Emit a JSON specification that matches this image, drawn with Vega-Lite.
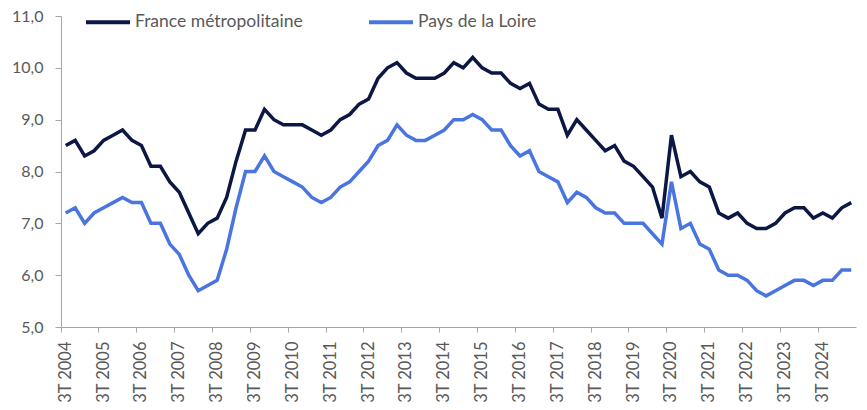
{
  "$schema": "https://vega.github.io/schema/vega-lite/v6.json",
  "width": 795,
  "height": 311,
  "autosize": {"type": "none"},
  "padding": {"left": 61, "top": 16, "right": 11, "bottom": 83},
  "background": "white",
  "config": {"view": {"stroke": null}, "font": "Lato"},
  "data": {"values": [
    {"trimestre": "3T 2004", "France métropolitaine": 8.5, "Pays de la Loire": 7.2},
    {"trimestre": "4T 2004", "France métropolitaine": 8.6, "Pays de la Loire": 7.3},
    {"trimestre": "1T 2005", "France métropolitaine": 8.3, "Pays de la Loire": 7.0},
    {"trimestre": "2T 2005", "France métropolitaine": 8.4, "Pays de la Loire": 7.2},
    {"trimestre": "3T 2005", "France métropolitaine": 8.6, "Pays de la Loire": 7.3},
    {"trimestre": "4T 2005", "France métropolitaine": 8.7, "Pays de la Loire": 7.4},
    {"trimestre": "1T 2006", "France métropolitaine": 8.8, "Pays de la Loire": 7.5},
    {"trimestre": "2T 2006", "France métropolitaine": 8.6, "Pays de la Loire": 7.4},
    {"trimestre": "3T 2006", "France métropolitaine": 8.5, "Pays de la Loire": 7.4},
    {"trimestre": "4T 2006", "France métropolitaine": 8.1, "Pays de la Loire": 7.0},
    {"trimestre": "1T 2007", "France métropolitaine": 8.1, "Pays de la Loire": 7.0},
    {"trimestre": "2T 2007", "France métropolitaine": 7.8, "Pays de la Loire": 6.6},
    {"trimestre": "3T 2007", "France métropolitaine": 7.6, "Pays de la Loire": 6.4},
    {"trimestre": "4T 2007", "France métropolitaine": 7.2, "Pays de la Loire": 6.0},
    {"trimestre": "1T 2008", "France métropolitaine": 6.8, "Pays de la Loire": 5.7},
    {"trimestre": "2T 2008", "France métropolitaine": 7.0, "Pays de la Loire": 5.8},
    {"trimestre": "3T 2008", "France métropolitaine": 7.1, "Pays de la Loire": 5.9},
    {"trimestre": "4T 2008", "France métropolitaine": 7.5, "Pays de la Loire": 6.5},
    {"trimestre": "1T 2009", "France métropolitaine": 8.2, "Pays de la Loire": 7.3},
    {"trimestre": "2T 2009", "France métropolitaine": 8.8, "Pays de la Loire": 8.0},
    {"trimestre": "3T 2009", "France métropolitaine": 8.8, "Pays de la Loire": 8.0},
    {"trimestre": "4T 2009", "France métropolitaine": 9.2, "Pays de la Loire": 8.3},
    {"trimestre": "1T 2010", "France métropolitaine": 9.0, "Pays de la Loire": 8.0},
    {"trimestre": "2T 2010", "France métropolitaine": 8.9, "Pays de la Loire": 7.9},
    {"trimestre": "3T 2010", "France métropolitaine": 8.9, "Pays de la Loire": 7.8},
    {"trimestre": "4T 2010", "France métropolitaine": 8.9, "Pays de la Loire": 7.7},
    {"trimestre": "1T 2011", "France métropolitaine": 8.8, "Pays de la Loire": 7.5},
    {"trimestre": "2T 2011", "France métropolitaine": 8.7, "Pays de la Loire": 7.4},
    {"trimestre": "3T 2011", "France métropolitaine": 8.8, "Pays de la Loire": 7.5},
    {"trimestre": "4T 2011", "France métropolitaine": 9.0, "Pays de la Loire": 7.7},
    {"trimestre": "1T 2012", "France métropolitaine": 9.1, "Pays de la Loire": 7.8},
    {"trimestre": "2T 2012", "France métropolitaine": 9.3, "Pays de la Loire": 8.0},
    {"trimestre": "3T 2012", "France métropolitaine": 9.4, "Pays de la Loire": 8.2},
    {"trimestre": "4T 2012", "France métropolitaine": 9.8, "Pays de la Loire": 8.5},
    {"trimestre": "1T 2013", "France métropolitaine": 10.0, "Pays de la Loire": 8.6},
    {"trimestre": "2T 2013", "France métropolitaine": 10.1, "Pays de la Loire": 8.9},
    {"trimestre": "3T 2013", "France métropolitaine": 9.9, "Pays de la Loire": 8.7},
    {"trimestre": "4T 2013", "France métropolitaine": 9.8, "Pays de la Loire": 8.6},
    {"trimestre": "1T 2014", "France métropolitaine": 9.8, "Pays de la Loire": 8.6},
    {"trimestre": "2T 2014", "France métropolitaine": 9.8, "Pays de la Loire": 8.7},
    {"trimestre": "3T 2014", "France métropolitaine": 9.9, "Pays de la Loire": 8.8},
    {"trimestre": "4T 2014", "France métropolitaine": 10.1, "Pays de la Loire": 9.0},
    {"trimestre": "1T 2015", "France métropolitaine": 10.0, "Pays de la Loire": 9.0},
    {"trimestre": "2T 2015", "France métropolitaine": 10.2, "Pays de la Loire": 9.1},
    {"trimestre": "3T 2015", "France métropolitaine": 10.0, "Pays de la Loire": 9.0},
    {"trimestre": "4T 2015", "France métropolitaine": 9.9, "Pays de la Loire": 8.8},
    {"trimestre": "1T 2016", "France métropolitaine": 9.9, "Pays de la Loire": 8.8},
    {"trimestre": "2T 2016", "France métropolitaine": 9.7, "Pays de la Loire": 8.5},
    {"trimestre": "3T 2016", "France métropolitaine": 9.6, "Pays de la Loire": 8.3},
    {"trimestre": "4T 2016", "France métropolitaine": 9.7, "Pays de la Loire": 8.4},
    {"trimestre": "1T 2017", "France métropolitaine": 9.3, "Pays de la Loire": 8.0},
    {"trimestre": "2T 2017", "France métropolitaine": 9.2, "Pays de la Loire": 7.9},
    {"trimestre": "3T 2017", "France métropolitaine": 9.2, "Pays de la Loire": 7.8},
    {"trimestre": "4T 2017", "France métropolitaine": 8.7, "Pays de la Loire": 7.4},
    {"trimestre": "1T 2018", "France métropolitaine": 9.0, "Pays de la Loire": 7.6},
    {"trimestre": "2T 2018", "France métropolitaine": 8.8, "Pays de la Loire": 7.5},
    {"trimestre": "3T 2018", "France métropolitaine": 8.6, "Pays de la Loire": 7.3},
    {"trimestre": "4T 2018", "France métropolitaine": 8.4, "Pays de la Loire": 7.2},
    {"trimestre": "1T 2019", "France métropolitaine": 8.5, "Pays de la Loire": 7.2},
    {"trimestre": "2T 2019", "France métropolitaine": 8.2, "Pays de la Loire": 7.0},
    {"trimestre": "3T 2019", "France métropolitaine": 8.1, "Pays de la Loire": 7.0},
    {"trimestre": "4T 2019", "France métropolitaine": 7.9, "Pays de la Loire": 7.0},
    {"trimestre": "1T 2020", "France métropolitaine": 7.7, "Pays de la Loire": 6.8},
    {"trimestre": "2T 2020", "France métropolitaine": 7.1, "Pays de la Loire": 6.6},
    {"trimestre": "3T 2020", "France métropolitaine": 8.7, "Pays de la Loire": 7.8},
    {"trimestre": "4T 2020", "France métropolitaine": 7.9, "Pays de la Loire": 6.9},
    {"trimestre": "1T 2021", "France métropolitaine": 8.0, "Pays de la Loire": 7.0},
    {"trimestre": "2T 2021", "France métropolitaine": 7.8, "Pays de la Loire": 6.6},
    {"trimestre": "3T 2021", "France métropolitaine": 7.7, "Pays de la Loire": 6.5},
    {"trimestre": "4T 2021", "France métropolitaine": 7.2, "Pays de la Loire": 6.1},
    {"trimestre": "1T 2022", "France métropolitaine": 7.1, "Pays de la Loire": 6.0},
    {"trimestre": "2T 2022", "France métropolitaine": 7.2, "Pays de la Loire": 6.0},
    {"trimestre": "3T 2022", "France métropolitaine": 7.0, "Pays de la Loire": 5.9},
    {"trimestre": "4T 2022", "France métropolitaine": 6.9, "Pays de la Loire": 5.7},
    {"trimestre": "1T 2023", "France métropolitaine": 6.9, "Pays de la Loire": 5.6},
    {"trimestre": "2T 2023", "France métropolitaine": 7.0, "Pays de la Loire": 5.7},
    {"trimestre": "3T 2023", "France métropolitaine": 7.2, "Pays de la Loire": 5.8},
    {"trimestre": "4T 2023", "France métropolitaine": 7.3, "Pays de la Loire": 5.9},
    {"trimestre": "1T 2024", "France métropolitaine": 7.3, "Pays de la Loire": 5.9},
    {"trimestre": "2T 2024", "France métropolitaine": 7.1, "Pays de la Loire": 5.8},
    {"trimestre": "3T 2024", "France métropolitaine": 7.2, "Pays de la Loire": 5.9},
    {"trimestre": "4T 2024", "France métropolitaine": 7.1, "Pays de la Loire": 5.9},
    {"trimestre": "1T 2025", "France métropolitaine": 7.3, "Pays de la Loire": 6.1},
    {"trimestre": "2T 2025", "France métropolitaine": 7.4, "Pays de la Loire": 6.1}
  ]},
  "transform": [
    {"fold": ["France métropolitaine", "Pays de la Loire"], "as": ["serie", "taux"]}
  ],
  "mark": {"type": "line", "strokeWidth": 3.5, "strokeJoin": "miter"},
  "encoding": {
    "x": {
      "field": "trimestre",
      "type": "nominal",
      "sort": null,
      "scale": {"type": "band", "paddingInner": 0, "paddingOuter": 0},
      "axis": {
        "title": null,
        "values": ["3T 2004", "3T 2005", "3T 2006", "3T 2007", "3T 2008", "3T 2009", "3T 2010", "3T 2011", "3T 2012", "3T 2013", "3T 2014", "3T 2015", "3T 2016", "3T 2017", "3T 2018", "3T 2019", "3T 2020", "3T 2021", "3T 2022", "3T 2023", "3T 2024"],
        "bandPosition": 0,
        "labelAngle": -90,
        "labelAlign": "right",
        "labelBaseline": "middle",
        "labelOverlap": false,
        "tickSize": 5,
        "labelPadding": 9,
        "domainColor": "#a6a6a6",
        "tickColor": "#a6a6a6",
        "labelColor": "#595959",
        "labelFontSize": 16.5,
        "labelFont": "Lato",
        "grid": false
      }
    },
    "y": {
      "field": "taux",
      "type": "quantitative",
      "scale": {"domain": [5, 11], "nice": false, "zero": false},
      "axis": {
        "title": null,
        "values": [5, 6, 7, 8, 9, 10, 11],
        "labelExpr": "replace(format(datum.value, '.1f'), '.', ',')",
        "grid": false,
        "tickSize": 6,
        "labelPadding": 12,
        "domainColor": "#a6a6a6",
        "tickColor": "#a6a6a6",
        "labelColor": "#595959",
        "labelFontSize": 16,
        "labelFont": "Lato"
      }
    },
    "color": {
      "field": "serie",
      "type": "nominal",
      "scale": {"domain": ["France métropolitaine", "Pays de la Loire"], "range": ["#0c1744", "#4a75e0"]},
      "legend": {
        "title": null,
        "orient": "none",
        "direction": "horizontal",
        "legendX": 23,
        "legendY": -18,
        "padding": 0,
        "symbolType": "stroke",
        "symbolSize": 1936,
        "symbolStrokeWidth": 4,
        "labelFontSize": 17.5,
        "labelFont": "Lato",
        "labelColor": "#595959",
        "labelLimit": 400,
        "labelOffset": 3,
        "columnPadding": 58
      }
    }
  }
}
